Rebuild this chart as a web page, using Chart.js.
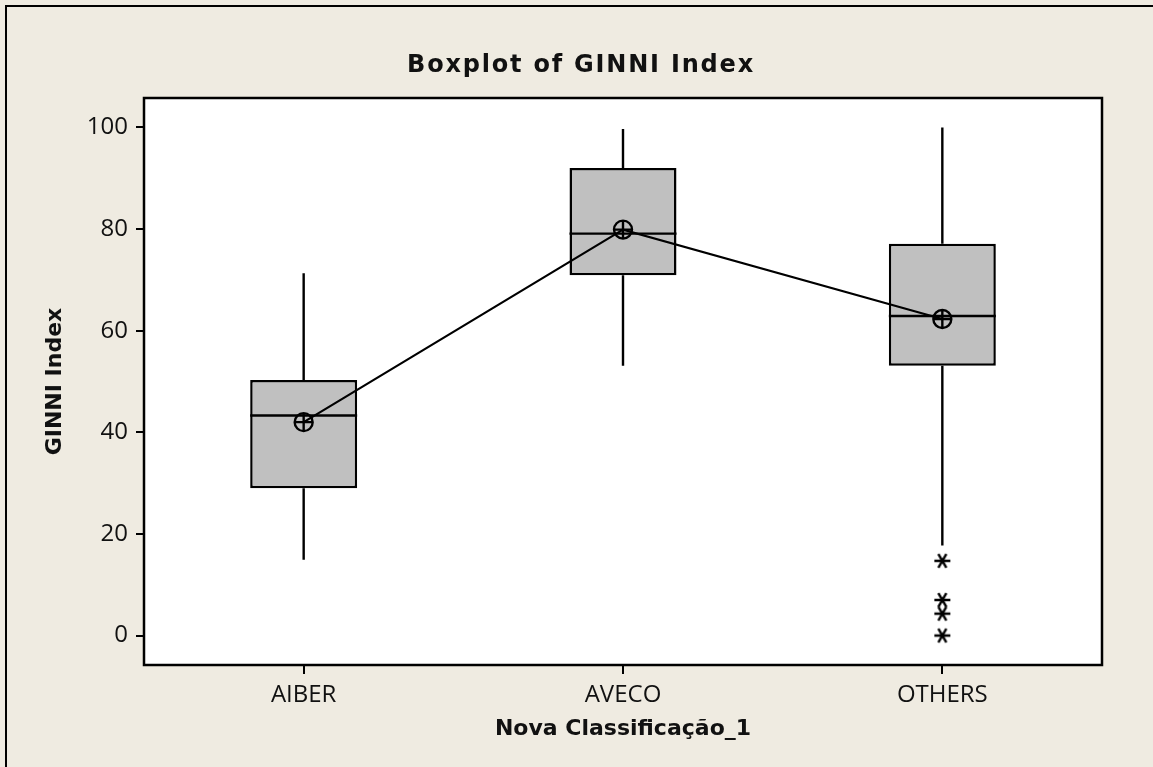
<!DOCTYPE html>
<html>
<head>
<meta charset="utf-8">
<script src="https://cdn.jsdelivr.net/npm/chart.js@4.4.0/dist/chart.umd.min.js"></script>
<style>
  html, body { margin: 0; padding: 0; background: #efebe1; }
  #wrap { width: 1153px; height: 767px; }
</style>
</head>
<body>
<div id="wrap"><canvas id="myChart"></canvas></div>
<script>
// GINNI index per group: five-number summaries, means and outliers
const categories = ['AIBER', 'AVECO', 'OTHERS'];
const whiskerLow = [14.9, 53.1, 17.7];
const q1 = [29.0, 70.9, 53.1];
const median = [43.3, 79.1, 62.9];
const q3 = [50.3, 92.0, 77.1];
const whiskerHigh = [71.3, 99.7, 100];
const means = [42.0, 79.9, 62.3];
const outlierGroup = ['OTHERS', 'OTHERS', 'OTHERS', 'OTHERS'];
const outlierValues = [14.7, 7.0, 4.3, 0];
const yTicks = [0, 20, 40, 60, 80, 100];

const main = () => {
  // asterisk marker for outliers
  const star = document.createElement('canvas');
  star.width = 20;
  star.height = 20;
  const sc = star.getContext('2d');
  sc.strokeStyle = '#000';
  sc.lineWidth = 2.4;
  sc.beginPath();
  [0, 60, 120].forEach((deg) => {
    const r = (deg * Math.PI) / 180;
    const dx = Math.cos(r) * 8;
    const dy = Math.sin(r) * 8;
    sc.moveTo(10 - dx, 10 - dy);
    sc.lineTo(10 + dx, 10 + dy);
  });
  sc.stroke();

  const frame = {
    id: 'frame',
    beforeDraw(chart) {
      const { ctx, chartArea: a } = chart;
      ctx.save();
      ctx.fillStyle = '#efebe1';
      ctx.fillRect(0, 0, chart.width, chart.height);
      ctx.strokeStyle = '#000';
      ctx.lineWidth = 2;
      ctx.strokeRect(6, 6, chart.width + 20, chart.height + 20);
      ctx.fillStyle = '#fff';
      ctx.fillRect(a.left, a.top, a.right - a.left, a.bottom - a.top);
      ctx.restore();
    },
    afterDraw(chart) {
      const { ctx, chartArea: a } = chart;
      ctx.save();
      ctx.strokeStyle = '#000';
      ctx.lineWidth = 2.5;
      ctx.strokeRect(a.left, a.top, a.right - a.left, a.bottom - a.top);
      ctx.fillStyle = '#111';
      ctx.font = 'bold 24px "DejaVu Sans"';
      ctx.letterSpacing = '1.8px';
      ctx.textAlign = 'center';
      ctx.textBaseline = 'alphabetic';
      ctx.fillText('Boxplot of GINNI Index', 581, 72);
      ctx.restore();
    },
  };

  // whiskers and median lines on top of the boxes
  const whiskers = {
    id: 'whiskers',
    afterDatasetDraw(chart, args) {
      if (args.index !== 0) return;
      const { ctx } = chart;
      const y = chart.scales.y;
      ctx.save();
      ctx.strokeStyle = '#000';
      ctx.lineWidth = 2.4;
      args.meta.data.forEach((bar, i) => {
        const half = bar.width / 2;
        const m = y.getPixelForValue(median[i]);
        ctx.beginPath();
        ctx.moveTo(bar.x, y.getPixelForValue(q3[i]));
        ctx.lineTo(bar.x, y.getPixelForValue(whiskerHigh[i]));
        ctx.moveTo(bar.x, y.getPixelForValue(q1[i]));
        ctx.lineTo(bar.x, y.getPixelForValue(whiskerLow[i]));
        ctx.moveTo(bar.x - half, m);
        ctx.lineTo(bar.x + half, m);
        ctx.stroke();
      });
      ctx.restore();
    },
  };

  const ctx = document.getElementById('myChart').getContext('2d');
  const config = {
    type: 'bar',
    data: {
      labels: categories,
      datasets: [
        {
          type: 'bar',
          data: categories.map((c, i) => [q1[i], q3[i]]),
          backgroundColor: '#c0c0c0',
          borderColor: '#000',
          borderWidth: 2.5,
          borderSkipped: false,
          barPercentage: 0.335,
          categoryPercentage: 1,
          order: 3,
        },
        {
          type: 'line',
          data: means,
          borderColor: '#000',
          borderWidth: 2.2,
          pointStyle: 'circle',
          pointRadius: 9,
          pointBorderWidth: 2.4,
          pointBorderColor: '#000',
          pointBackgroundColor: 'rgba(0,0,0,0)',
          order: 2,
        },
        {
          type: 'line',
          data: means,
          showLine: false,
          pointStyle: 'cross',
          pointRadius: 9,
          pointBorderWidth: 2.4,
          pointBorderColor: '#000',
          order: 1,
        },
        {
          type: 'line',
          data: outlierGroup.map((g, i) => ({ x: g, y: outlierValues[i] })),
          showLine: false,
          pointStyle: star,
          order: 0,
        },
      ],
    },
    options: {
      responsive: true,
      maintainAspectRatio: false,
      animation: false,
      events: [],
      layout: { padding: { left: 0, right: 51, top: 98, bottom: 0 } },
      plugins: {
        legend: { display: false },
        title: { display: false },
        tooltip: { enabled: false },
      },
      scales: {
        x: {
          type: 'category',
          offset: true,
          grid: {
            offset: false,
            drawOnChartArea: false,
            drawTicks: true,
            tickLength: 9,
            color: '#000',
            lineWidth: 2,
          },
          border: { display: false },
          ticks: {
            color: '#111',
            font: { family: 'Open Sans', size: 24 },
            padding: 7,
          },
          title: {
            display: true,
            text: 'Nova Classificação_1',
            color: '#111',
            font: { family: 'DejaVu Sans', weight: 'bold', size: 22 },
            padding: { top: 0, bottom: 25 },
          },
          afterFit(s) {
            s.height = 102;
          },
        },
        y: {
          min: -5.8,
          max: 105.8,
          afterBuildTicks(s) {
            s.ticks = yTicks.map((v) => ({ value: v }));
          },
          grid: {
            drawOnChartArea: false,
            drawTicks: true,
            tickLength: 8,
            color: '#000',
            lineWidth: 2,
          },
          border: { display: false },
          ticks: {
            color: '#111',
            font: { family: 'Open Sans', size: 24 },
            padding: 8,
          },
          title: {
            display: true,
            text: 'GINNI Index',
            color: '#111',
            font: { family: 'DejaVu Sans', weight: 'bold', size: 22 },
            padding: { top: 42, bottom: 0 },
          },
          afterFit(s) {
            s.width = 144;
          },
        },
      },
    },
    plugins: [frame, whiskers],
  };
  const myChart = new Chart(ctx, config);
};

main();
</script>
</body>
</html>
